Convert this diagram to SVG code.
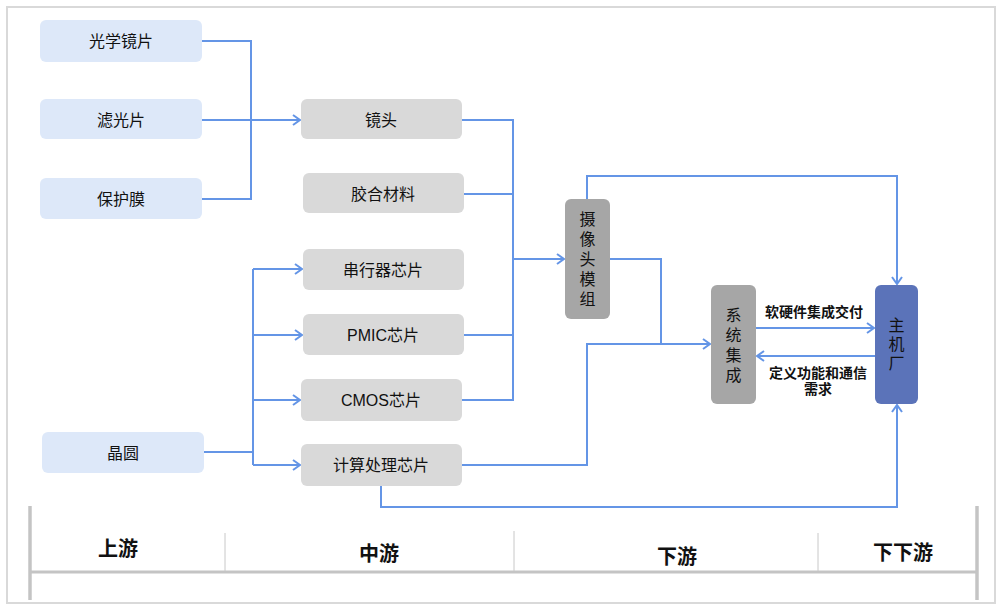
<svg xmlns="http://www.w3.org/2000/svg" width="1002" height="610" viewBox="0 0 1002 610">
<defs>
<marker id="arr" markerUnits="userSpaceOnUse" markerWidth="12" markerHeight="14" refX="9" refY="6" orient="auto" viewBox="0 0 12 12">
<path d="M2,1 L9,6 L2,11" fill="none" stroke="#6495e6" stroke-width="2"/>
</marker>
</defs>
<style>
.bg{fill:#fff;stroke:#d9d9d9;stroke-width:2}
.up{fill:#dde8f9}
.mid{fill:#d9d9d9}
.dk{fill:#a6a6a6}
.oem{fill:#5b73b9}
.t{font-family:"Liberation Sans","Noto Sans CJK SC",sans-serif;font-size:16px;fill:#111;text-anchor:middle;dominant-baseline:central}
.lb{font-family:"Liberation Sans","Noto Sans CJK SC",sans-serif;font-size:14px;font-weight:bold;fill:#111;text-anchor:middle}
.st{font-family:"Liberation Sans","Noto Sans CJK SC",sans-serif;font-size:20px;font-weight:bold;fill:#111;text-anchor:middle}
.c{fill:none;stroke:#6495e6;stroke-width:2}
.ca{fill:none;stroke:#6495e6;stroke-width:2;marker-end:url(#arr)}
.bar{stroke:#c4c4c4;stroke-width:3.5}
.ln{stroke:#c4c4c4;stroke-width:3}
.dv{stroke:#c8c8c8;stroke-width:1}
</style>
<rect class="bg" x="7" y="7" width="988" height="596"/>

<g id="connectors">
<polyline class="c" points="202,41 251,41 251,199 202,199"/>
<line class="ca" x1="202" y1="120" x2="300" y2="120"/>
<polyline class="c" points="462,120 513,120 513,400 462,400"/>
<line class="c" x1="464" y1="194" x2="513" y2="194"/>
<line class="c" x1="464" y1="335" x2="513" y2="335"/>
<line class="ca" x1="513" y1="259" x2="564" y2="259"/>
<line class="c" x1="204" y1="452" x2="253" y2="452"/>
<line class="c" x1="253" y1="269" x2="253" y2="465"/>
<line class="ca" x1="253" y1="269" x2="302" y2="269"/>
<line class="ca" x1="253" y1="335" x2="302" y2="335"/>
<line class="ca" x1="253" y1="400" x2="300" y2="400"/>
<line class="ca" x1="253" y1="465" x2="300" y2="465"/>
<polyline class="ca" points="587,199 587,176 897,176 897,284"/>
<polyline class="ca" points="610,259 661,259 661,344 710,344"/>
<polyline class="c" points="462,465 587,465 587,344 661,344"/>
<polyline class="ca" points="381,486 381,507 897,507 897,405"/>
<line class="ca" x1="756" y1="328" x2="874" y2="328"/>
<line class="ca" x1="875" y1="356" x2="757" y2="356"/>
</g>

<g id="n-guangxue"><rect class="up" x="40" y="20" width="162" height="42" rx="6"/><text class="t" x="121" y="41">光学镜片</text></g>
<g id="n-lvguang"><rect class="up" x="40" y="99" width="162" height="40" rx="6"/><text class="t" x="121" y="120">滤光片</text></g>
<g id="n-baohu"><rect class="up" x="40" y="178" width="162" height="41" rx="6"/><text class="t" x="121" y="199">保护膜</text></g>
<g id="n-jingyuan"><rect class="up" x="42" y="432" width="162" height="41" rx="6"/><text class="t" x="123" y="453">晶圆</text></g>

<g id="n-jingtou"><rect class="mid" x="301" y="99" width="161" height="40" rx="6"/><text class="t" x="381" y="120">镜头</text></g>
<g id="n-jiaohe"><rect class="mid" x="303" y="173" width="161" height="40" rx="6"/><text class="t" x="383" y="194">胶合材料</text></g>
<g id="n-chuanxing"><rect class="mid" x="303" y="249" width="161" height="41" rx="6"/><text class="t" x="383" y="270">串行器芯片</text></g>
<g id="n-pmic"><rect class="mid" x="303" y="314" width="161" height="41" rx="6"/><text class="t" x="383" y="335">PMIC芯片</text></g>
<g id="n-cmos"><rect class="mid" x="301" y="379" width="161" height="42" rx="6"/><text class="t" x="381" y="400">CMOS芯片</text></g>
<g id="n-jisuan"><rect class="mid" x="301" y="444" width="161" height="42" rx="6"/><text class="t" x="381" y="465">计算处理芯片</text></g>

<g id="n-camera"><rect class="dk" x="565" y="199" width="45" height="120" rx="6"/>
<text class="t" x="587.5" y="219">摄</text><text class="t" x="587.5" y="239">像</text><text class="t" x="587.5" y="259">头</text><text class="t" x="587.5" y="279">模</text><text class="t" x="587.5" y="299">组</text></g>
<g id="n-system"><rect class="dk" x="711" y="285" width="45" height="119" rx="6"/>
<text class="t" x="733.5" y="315">系</text><text class="t" x="733.5" y="335">统</text><text class="t" x="733.5" y="355">集</text><text class="t" x="733.5" y="375">成</text></g>
<g id="n-oem"><rect class="oem" x="875" y="285" width="43" height="119" rx="6"/>
<text class="t" x="896.5" y="325">主</text><text class="t" x="896.5" y="344">机</text><text class="t" x="896.5" y="363">厂</text></g>

<g id="labels">
<text class="lb" x="814" y="317">软硬件集成交付</text>
<text class="lb" x="818" y="378">定义功能和通信</text>
<text class="lb" x="818" y="394">需求</text>
</g>

<g id="stages">
<line class="bar" x1="30" y1="506" x2="30" y2="600"/>
<line class="bar" x1="977" y1="506" x2="977" y2="600"/>
<line class="ln" x1="31" y1="572" x2="976" y2="572"/>
<line class="dv" x1="225" y1="533" x2="225" y2="571"/>
<line class="dv" x1="514" y1="531" x2="514" y2="571"/>
<line class="dv" x1="818" y1="533" x2="818" y2="571"/>
<text class="st" x="118" y="556">上游</text>
<text class="st" x="379" y="561">中游</text>
<text class="st" x="677" y="564">下游</text>
<text class="st" x="903" y="560">下下游</text>
</g>
</svg>
